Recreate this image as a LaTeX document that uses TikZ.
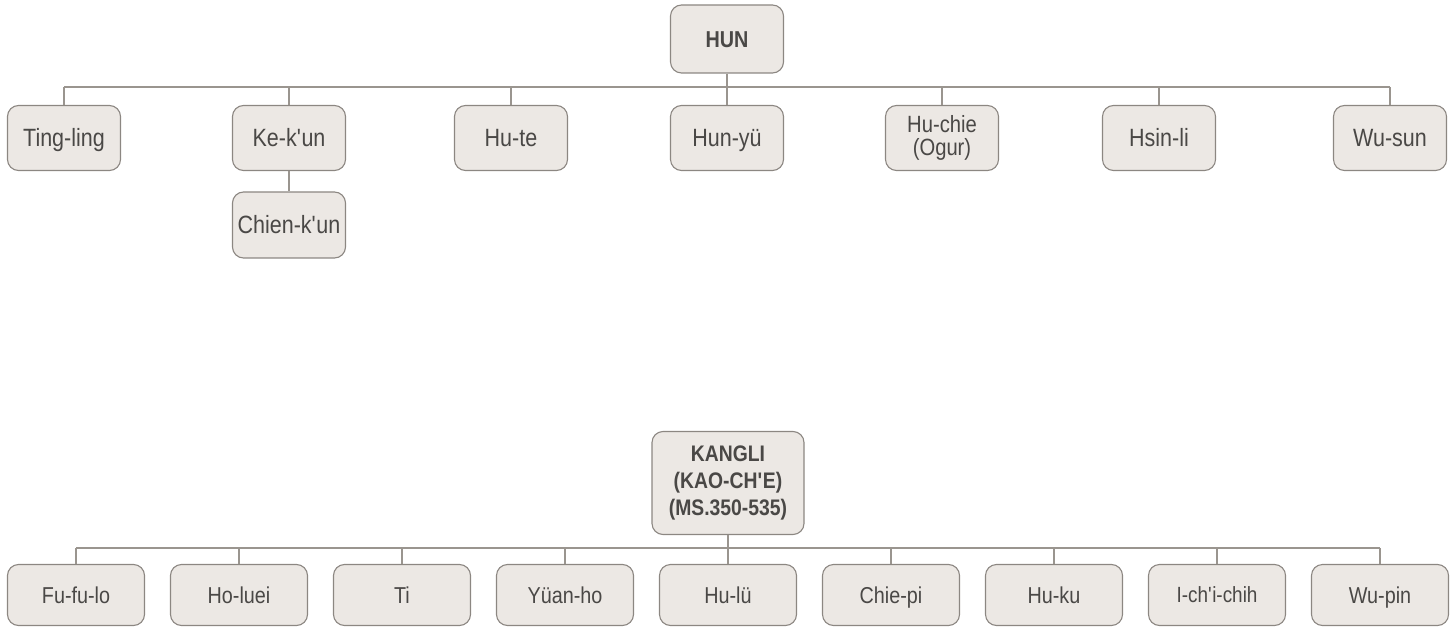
\documentclass[tikz,border=0pt]{standalone}
\usepackage{fontspec}
\setmainfont{Liberation Sans}[FakeStretch=0.86]
\definecolor{boxfill}{HTML}{ECE8E4}
\definecolor{boxline}{HTML}{8C8782}
\definecolor{txt}{HTML}{4A4846}
\definecolor{conn}{HTML}{9A958F}
\newcommand{\ap}{\XeTeXglyph\the\XeTeXcharglyph"0027\relax}
\tikzset{
  box/.style={draw=boxline, fill=boxfill, rounded corners=11pt, line width=1.1pt,
    text=txt, align=center, inner sep=0pt},
  topbox/.style={box, minimum width=113pt, minimum height=65pt,
    font=\fontsize{25}{27}\selectfont, text height=17.9pt, text depth=0pt},
  botbox/.style={box, minimum width=137pt, minimum height=61pt,
    font=\fontsize{23}{25}\selectfont, text height=16.5pt, text depth=0pt},
  conn/.style={draw=conn, line width=1.1pt}
}
\begin{document}
\begin{tikzpicture}[x=1pt,y=-1pt]
\useasboundingbox (0,0) rectangle (1450,628);
% top tree
\node[topbox, minimum height=68pt, font=\bfseries\fontsize{23}{25}\selectfont, text height=16.5pt] (hun) at (727,39) {HUN};
\node[topbox] (t1) at (64,138) {Ting-ling};
\node[topbox] (t2) at (289,138) {Ke-k\ap un};
\node[topbox] (t3) at (511,138) {Hu-te};
\node[topbox] (t4) at (727,138) {Hun-yü};
\node[box, minimum width=113pt, minimum height=65pt, font=\fontsize{23.5}{23.5}\selectfont] (t5) at (942,138) {Hu-chie\\(Ogur)};
\node[topbox] (t6) at (1159,138) {Hsin-li};
\node[topbox] (t7) at (1390,138) {Wu-sun};
\node[topbox, minimum height=66pt] (t2a) at (289,225) {Chien-k\ap un};
\coordinate (topL) at (64,87);
\coordinate (topR) at (1390,87);
\draw[conn] (topL) -- (topR);
\draw[conn] (hun.south) -- (hun |- topL);
\foreach \n in {t1,t2,t3,t4,t5,t6,t7} {\draw[conn] (\n.north) -- (\n |- topL);}
\draw[conn] (t2.south) -- (t2a.north);
% bottom tree
\node[box, minimum width=152pt, minimum height=103pt, font=\bfseries\fontsize{22.5}{27}\selectfont] (kan) at (728,483) {KANGLI\\(KAO-CH\ap E)\\(MS.350-535)};
\node[botbox] (b1) at (76,595) {Fu-fu-lo};
\node[botbox] (b2) at (239,595) {Ho-luei};
\node[botbox] (b3) at (402,595) {Ti};
\node[botbox] (b4) at (565,595) {Yüan-ho};
\node[botbox] (b5) at (728,595) {Hu-lü};
\node[botbox] (b6) at (891,595) {Chie-pi};
\node[botbox] (b7) at (1054,595) {Hu-ku};
\node[botbox, font=\fontsize{22}{24}\selectfont, text height=15.8pt] (b8) at (1217,595) {I-ch\ap i-chih};
\node[botbox] (b9) at (1380,595) {Wu-pin};
\coordinate (botL) at (76,548);
\coordinate (botR) at (1380,548);
\draw[conn] (botL) -- (botR);
\draw[conn] (kan.south) -- (kan |- botL);
\foreach \n in {b1,b2,b3,b4,b5,b6,b7,b8,b9} {\draw[conn] (\n.north) -- (\n |- botL);}
\end{tikzpicture}
\end{document}
